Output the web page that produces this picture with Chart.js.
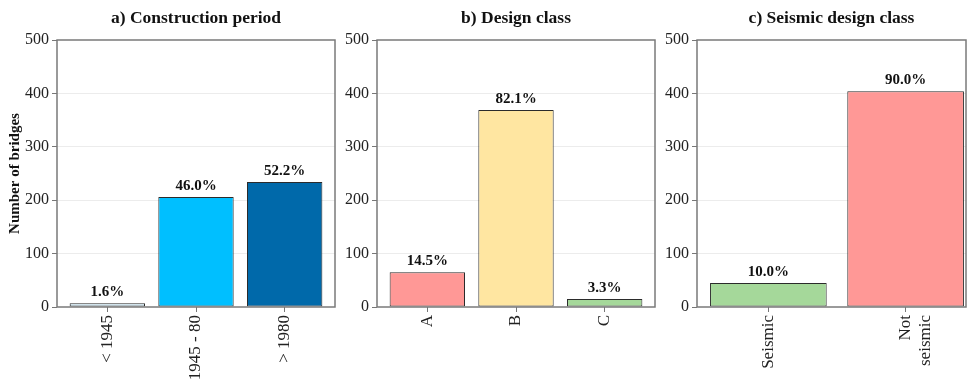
<!DOCTYPE html>
<html>
<head>
<meta charset="utf-8">
<script src="https://cdn.jsdelivr.net/npm/chart.js@4.4.1/dist/chart.umd.min.js"></script>
<style>
  html, body { margin: 0; padding: 0; background: #fff; }
  body { width: 969px; height: 379px; position: relative; overflow: hidden; }
  .panel { position: absolute; top: 0; height: 379px; }
</style>
</head>
<body>
<div class="panel" id="pa" style="left:0px;width:345px"><canvas id="chartA"></canvas></div>
<div class="panel" id="pb" style="left:337px;width:328px"><canvas id="chartB"></canvas></div>
<div class="panel" id="pc" style="left:657px;width:319px"><canvas id="chartC"></canvas></div>
<script>
// bridge inventory, number of bridges per group and share of total
var periodLabels = ['< 1945', '1945 - 80', '> 1980'];
var periodCounts = [7, 206, 234];
var periodShares = ['1.6%', '46.0%', '52.2%'];
var periodColors = ['#d4ecf7', '#00bfff', '#0069aa'];

var classLabels = ['A', 'B', 'C'];
var classCounts = [65, 369, 15];
var classShares = ['14.5%', '82.1%', '3.3%'];
var classColors = ['#ff9896', '#ffe6a1', '#a5d89a'];

var seismicLabels = ['Seismic', ['Not', 'seismic']];
var seismicCounts = [45, 404];
var seismicShares = ['10.0%', '90.0%'];
var seismicColors = ['#a5d89a', '#ff9896'];

var yTicks = [0, 100, 200, 300, 400, 500];

var FONT = "'Liberation Serif', 'Times New Roman', serif";
Chart.defaults.font.family = FONT;
Chart.defaults.color = '#1a1a1a';

// box around the plot area
var framePlugin = {
  id: 'frame',
  afterDatasetsDraw: function(chart) {
    var a = chart.chartArea, ctx = chart.ctx;
    ctx.save();
    ctx.strokeStyle = '#7a7a7a';
    ctx.lineWidth = 1.5;
    ctx.strokeRect(a.left, a.top, a.right - a.left, a.bottom - a.top);
    ctx.restore();
  }
};

// percentage text above each bar
var shareLabels = {
  id: 'shareLabels',
  afterDatasetsDraw: function(chart, args, opts) {
    var ctx = chart.ctx;
    var meta = chart.getDatasetMeta(0);
    ctx.save();
    ctx.font = 'bold 15px ' + FONT;
    ctx.fillStyle = '#111';
    ctx.textAlign = 'center';
    ctx.textBaseline = 'alphabetic';
    meta.data.forEach(function(bar, i) {
      ctx.fillText(opts.texts[i], bar.x, bar.y - 7);
    });
    ctx.restore();
  }
};

function makeChart(id, title, labels, counts, shares, colors, xMin, xMax, yWidth, yTitle) {
  var pts = counts.map(function(v, i) { return {x: i, y: v}; });
  return new Chart(document.getElementById(id), {
    type: 'bar',
    data: {
      datasets: [{
        data: pts,
        backgroundColor: colors,
        borderColor: '#2b2b2b',
        borderWidth: 1,
        borderSkipped: false,
        barPercentage: 0.85,
        categoryPercentage: 1
      }]
    },
    options: {
      responsive: true,
      maintainAspectRatio: false,
      animation: false,
      events: [],
      layout: {padding: {left: 0, right: 10, top: 0, bottom: 0}},
      plugins: {
        legend: {display: false},
        tooltip: {enabled: false},
        title: {
          display: true,
          text: title,
          fullSize: false,
          color: '#111',
          font: {size: 17.5, weight: 'bold', lineHeight: 1.2},
          padding: {top: 8, bottom: 11}
        },
        shareLabels: {texts: shares}
      },
      scales: {
        x: {
          type: 'linear',
          min: xMin,
          max: xMax,
          offset: false,
          bounds: 'data',
          afterBuildTicks: function(s) {
            s.ticks = labels.map(function(l, i) { return {value: i}; });
          },
          afterFit: function(s) { s.height = 72; },
          border: {display: false},
          grid: {offset: false, drawOnChartArea: false, drawTicks: true, tickLength: 5, tickColor: '#777', lineWidth: 1},
          ticks: {
            minRotation: 90,
            maxRotation: 90,
            autoSkip: false,
            padding: 3,
            font: {size: 17},
            color: '#222',
            callback: function(v) { return labels[v]; }
          }
        },
        y: {
          min: 0,
          max: 500,
          afterBuildTicks: function(s) {
            s.ticks = yTicks.map(function(v) { return {value: v}; });
          },
          afterFit: function(s) { s.width = yWidth; },
          border: {display: false},
          grid: {
            color: function(c) { return (c.tick && (c.tick.value === 0 || c.tick.value === 500)) ? 'rgba(0,0,0,0)' : '#ececec'; },
            lineWidth: 1,
            drawTicks: true,
            tickLength: 5,
            tickColor: '#777'
          },
          ticks: {padding: 3, font: {size: 16}, color: '#222'},
          title: {
            display: !!yTitle,
            text: yTitle || '',
            color: '#111',
            font: {size: 15, weight: 'bold', lineHeight: 1.2},
            padding: {top: 6, bottom: 0}
          }
        }
      }
    },
    plugins: [framePlugin, shareLabels]
  });
}

makeChart('chartA', 'a) Construction period', periodLabels, periodCounts, periodShares, periodColors, -0.5675, 2.5675, 57, 'Number of bridges');
makeChart('chartB', 'b) Design class', classLabels, classCounts, classShares, classColors, -0.5675, 2.5675, 40, null);
makeChart('chartC', 'c) Seismic design class', seismicLabels, seismicCounts, seismicShares, seismicColors, -0.52, 1.44, 40, null);
</script>
</body>
</html>
